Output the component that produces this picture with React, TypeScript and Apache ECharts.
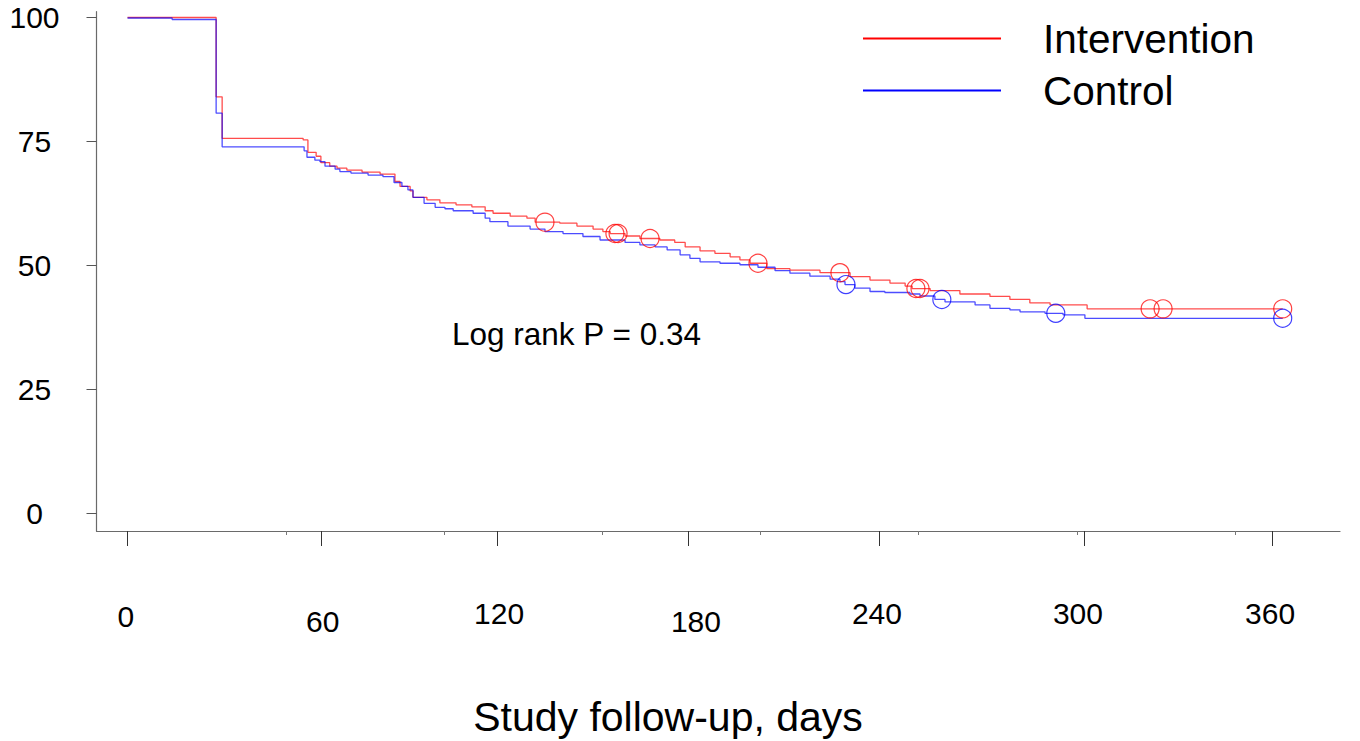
import React, { useEffect, useRef } from 'react';
import * as echarts from 'echarts';

const FONT = '"Liberation Sans", Arial, Helvetica, sans-serif';

// Kaplan-Meier step points: [day, survival %]
const interventionSteps: [number, number][] = [
  [0, 100], [28.0, 84.0], [29.9, 75.6], [55.5, 75.3], [57.0, 72.8], [59.6, 72.0], [61.1, 70.7],
  [63.9, 70.0], [66.2, 69.6], [69.3, 69.2], [74.1, 68.8], [79.8, 68.4], [84.5, 66.9], [86.1, 65.9],
  [89.3, 65.0], [90.2, 63.7], [94.6, 63.2], [98.7, 62.6], [103.8, 62.2], [108.8, 61.8], [113.0, 61.0],
  [115.5, 60.5], [120.9, 59.9], [126.2, 59.5], [128.8, 58.7], [136.6, 58.5], [142.0, 57.9],
  [147.1, 57.3], [150.2, 56.8], [152.5, 56.4], [157.2, 55.9], [161.9, 55.4], [168.2, 55.1],
  [172.9, 54.6], [176.2, 53.7], [180.9, 52.9], [185.6, 52.4], [190.4, 51.7], [193.5, 51.1],
  [196.7, 50.4], [202.0, 49.3], [209.3, 49.0], [218.8, 48.5], [228.3, 47.7], [234.6, 47.0],
  [240.9, 46.4], [245.7, 45.8], [247.9, 45.3], [253.6, 44.9], [263.0, 44.2], [272.5, 43.7],
  [278.8, 43.1], [285.1, 42.4], [291.5, 42.0], [303.2, 41.2], [365.0, 41.2],
];

const controlSteps: [number, number][] = [
  [0, 99.9], [14.1, 99.6], [28.0, 80.7], [29.9, 73.9], [55.8, 73.1], [56.7, 71.8], [59.2, 71.2],
  [60.8, 70.9], [62.4, 70.0], [65.6, 69.4], [67.1, 68.9], [70.6, 68.6], [76.0, 68.2], [80.7, 67.9],
  [84.2, 66.7], [86.7, 65.9], [88.6, 65.2], [90.2, 63.7], [93.7, 62.5], [97.2, 61.7], [100.3, 61.4],
  [102.9, 61.0], [109.2, 60.5], [113.0, 59.5], [114.5, 58.8], [120.2, 57.9], [127.2, 57.3],
  [131.9, 56.8], [137.6, 56.4], [143.9, 55.8], [149.3, 55.1], [157.2, 54.6], [161.9, 54.1],
  [166.7, 53.7], [170.5, 53.1], [174.6, 52.1], [177.7, 51.4], [180.9, 50.7], [187.2, 50.4],
  [193.5, 50.1], [199.2, 49.6], [204.6, 48.9], [209.3, 48.4], [215.6, 47.8], [222.0, 47.2],
  [225.1, 46.7], [226.7, 46.1], [229.8, 45.4], [234.6, 44.7], [239.3, 44.5], [247.2, 44.2],
  [250.4, 43.8], [255.1, 43.1], [258.3, 42.6], [267.8, 42.0], [272.5, 41.3], [278.8, 41.0],
  [282.0, 40.6], [289.9, 40.3], [295.6, 40.0], [302.5, 39.3], [365.0, 39.3],
];

// censoring times (days)
const interventionCensored = [131.9, 154.0, 155.0, 165.1, 199.2, 225.1, 249.1, 250.4, 323.1, 327.2, 365.0];
const controlCensored = [227.0, 257.3, 293.3, 365.0];

const yTickValues = [0, 25, 50, 75, 100];
const xTickLabels = ['0', '60', '120', '180', '240', '300', '360'];
const xTickDays = [-0.2, 61.1, 116.7, 177.1, 237.4, 302.2, 361.6];
const xLabelDays = [-0.5, 61.7, 117.4, 179.6, 236.8, 300.3, 361.0];
const xLabelStyle = ['mid', 'lo', 'hi', 'lo', 'hi', 'hi', 'hi'];
const minorTickDays = [50, 100, 150, 200, 250, 300, 350];

const X_MIN = -9.8;
const X_MAX = 383.1;
const Y_MIN = -3.63;
const Y_MAX = 101.17;

function survivalAt(steps: [number, number][], t: number): number {
  let v = steps[0][1];
  for (const [d, s] of steps) {
    if (d <= t) v = s;
  }
  return v;
}

export default function App() {
  const ref = useRef<HTMLDivElement>(null);

  useEffect(() => {
    if (!ref.current) return;
    const chart = echarts.init(ref.current, undefined, { renderer: 'svg' });

    const axisColor = '#6a6a6a';

    const option: any = {
      animation: false,
      backgroundColor: '#ffffff',
      grid: { left: 96.5, right: 20, top: 11.7, bottom: 210 },
      legend: {
        data: [
          { name: 'Intervention', icon: 'rect' },
          { name: 'Control', icon: 'rect' },
        ],
        orient: 'vertical',
        left: 863,
        top: 18,
        padding: 0,
        itemWidth: 138,
        itemHeight: 2,
        itemGap: 11,
        selectedMode: false,
        itemStyle: { opacity: 1 },
        textStyle: {
          fontSize: 40.5,
          fontFamily: FONT,
          color: '#000',
          lineHeight: 40,
          padding: [0, 0, 0, 37],
        },
      },
      xAxis: [
        {
          type: 'value',
          min: X_MIN,
          max: X_MAX,
          position: 'bottom',
          axisLine: { show: true, onZero: false, lineStyle: { color: axisColor, width: 1.2 } },
          axisTick: { show: true, customValues: xTickDays, length: 15, lineStyle: { color: '#333', width: 1 } },
          axisLabel: {
            show: true,
            customValues: xLabelDays,
            margin: 67,
            fontSize: 30,
            fontFamily: FONT,
            color: '#000',
            formatter: (v: number) => {
              let idx = 0;
              let best = Infinity;
              xLabelDays.forEach((d, i) => {
                const diff = Math.abs(d - v);
                if (diff < best) { best = diff; idx = i; }
              });
              return '{' + xLabelStyle[idx] + '|' + xTickLabels[idx] + '}';
            },
            rich: {
              hi: { fontSize: 30, fontFamily: FONT, color: '#000', padding: [0, 0, 0, 0] },
              mid: { fontSize: 30, fontFamily: FONT, color: '#000', padding: [3, 0, 0, 0] },
              lo: { fontSize: 30, fontFamily: FONT, color: '#000', padding: [8, 0, 0, 0] },
            },
          },
          splitLine: { show: false },
        },
        {
          type: 'value',
          min: X_MIN,
          max: X_MAX,
          position: 'bottom',
          axisLine: { show: false, onZero: false },
          axisTick: { show: true, customValues: minorTickDays, length: 4, lineStyle: { color: '#777', width: 1 } },
          axisLabel: { show: false },
          splitLine: { show: false },
        },
      ],
      yAxis: {
        type: 'value',
        min: Y_MIN,
        max: Y_MAX,
        axisLine: { show: true, onZero: false, lineStyle: { color: axisColor, width: 1.2 } },
        axisTick: { show: true, customValues: yTickValues, length: 10, lineStyle: { color: '#555', width: 1 } },
        axisLabel: {
          show: true,
          customValues: yTickValues,
          margin: 62,
          align: 'center',
          fontSize: 30,
          fontFamily: FONT,
          color: '#000',
        },
        splitLine: { show: false },
      },
      series: [
        {
          name: 'Intervention',
          type: 'line',
          step: 'end',
          data: interventionSteps,
          symbol: 'none',
          itemStyle: { color: '#ff0000' },
          lineStyle: { color: '#ff0000', width: 1.3, opacity: 0.7 },
          z: 2,
          silent: true,
        },
        {
          name: 'Control',
          type: 'line',
          step: 'end',
          data: controlSteps,
          symbol: 'none',
          itemStyle: { color: '#0000ff' },
          lineStyle: { color: '#0000ff', width: 1.3, opacity: 0.7 },
          z: 3,
          silent: true,
        },
        {
          name: 'Intervention censored',
          type: 'scatter',
          data: interventionCensored.map((t) => [t, survivalAt(interventionSteps, t)]),
          symbol: 'circle',
          symbolSize: 18,
          itemStyle: { color: 'rgba(0,0,0,0)', borderColor: '#ff0000', borderWidth: 1.2, opacity: 0.75 },
          z: 4,
          silent: true,
        },
        {
          name: 'Control censored',
          type: 'scatter',
          data: controlCensored.map((t) => [t, survivalAt(controlSteps, t)]),
          symbol: 'circle',
          symbolSize: 18,
          itemStyle: { color: 'rgba(0,0,0,0)', borderColor: '#0000ff', borderWidth: 1.2, opacity: 0.75 },
          z: 4,
          silent: true,
        },
      ],
      graphic: [
        {
          type: 'text',
          left: 452,
          top: 318,
          style: {
            text: 'Log rank P = 0.34',
            font: '31.5px ' + FONT,
            fill: '#000',
          },
        },
        {
          type: 'text',
          x: 668,
          y: 717,
          style: {
            text: 'Study follow-up, days',
            font: '41px ' + FONT,
            fill: '#000',
            align: 'center',
            verticalAlign: 'middle',
          },
        },
      ],
    };

    chart.setOption(option);
    return () => {
      chart.dispose();
    };
  }, []);

  return (
    <div
      ref={ref}
      style={{ position: 'absolute', left: 0, top: 0, width: 1360, height: 741, background: '#fff' }}
    />
  );
}
